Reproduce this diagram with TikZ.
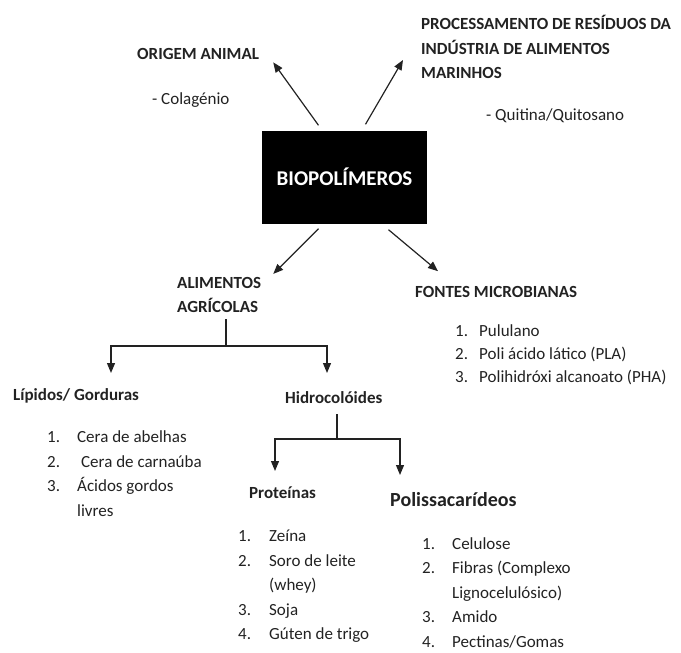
\documentclass[tikz,border=0pt]{standalone}
\usepackage{fontspec}
\setmainfont{Carlito}
\usetikzlibrary{arrows.meta,positioning}
\definecolor{inkgray}{HTML}{222222}
\tikzset{
    head/.style={anchor=west, inner sep=0pt, align=left,
        font=\fontsize{17}{24.5}\selectfont\bfseries, text=inkgray},
    entry/.style={anchor=west, inner sep=0pt,
        font=\fontsize{17}{24.5}\selectfont, text=inkgray},
    rootbox/.style={rectangle, fill=black, minimum width=165pt,
        minimum height=93pt, text=white,
        font=\fontsize{21}{24}\selectfont\bfseries},
    flow/.style={-{Triangle[length=10pt,width=8pt]}, line width=1.2pt, draw=inkgray},
    link/.style={line width=1.2pt, draw=inkgray}
}

\begin{document}
\begin{tikzpicture}[x=1pt,y=-1pt]
        \useasboundingbox (0,0) rectangle (681,653);
        % centre and the four sources
        \node[rootbox] at (344.5,177) (bio) {BIOPOLÍMEROS};
        \node[head] at (137,54) (orig) {ORIGEM ANIMAL};
        \node[entry] at (152,100) (colag) {- Colagénio};
        \node[head] at (421,47) (proc) {PROCESSAMENTO DE RESÍDUOS DA\\INDÚSTRIA DE ALIMENTOS\\MARINHOS};
        \node[entry] at (486,116) (quit) {- Quitina/Quitosano};
        \node[head] at (177,295) (alim) {ALIMENTOS\\AGRÍCOLAS};
        \node[head] at (415,292) (fontes) {FONTES MICROBIANAS};
        \node[entry,font=\fontsize{17}{23}\selectfont] at (455,355) (fontlist) {\begin{tabular}{@{}p{24pt}@{}l@{}}
            1. & Pululano\\
            2. & Poli ácido lático (PLA)\\
            3. & Polihidróxi alcanoato (PHA)
        \end{tabular}};
        % agricultural branch
        \node[head] at (13,396) (lip) {Lípidos/ Gorduras};
        \node[entry] at (47,474.5) (liplist) {\begin{tabular}{@{}p{30pt}@{}l@{}}
            1. & Cera de abelhas\\
            2. & \hspace{4pt}Cera de carnaúba\\
            3. & Ácidos gordos\\
               & livres
        \end{tabular}};
        \node[head] at (285,398) (hidro) {Hidrocolóides};
        \node[head] at (249,493) (prot) {Proteínas};
        \node[entry] at (238,586) (protlist) {\begin{tabular}{@{}p{31pt}@{}l@{}}
            1. & Zeína\\
            2. & Soro de leite\\
               & (whey)\\
            3. & Soja\\
            4. & Gúten de trigo
        \end{tabular}};
        \node[head,font=\fontsize{20}{24}\selectfont\bfseries] at (390,500) (poli) {Polissacarídeos};
        \node[entry] at (422,593.5) (polilist) {\begin{tabular}{@{}p{30pt}@{}l@{}}
            1. & Celulose\\
            2. & Fibras (Complexo\\
               & Lignocelulósico)\\
            3. & Amido\\
            4. & Pectinas/Gomas
        \end{tabular}};
        % forks
        \coordinate (alimfork) at (226,346);
        \coordinate (lipin) at (111,373);
        \coordinate (hidin) at (327,373);
        \coordinate (hidrofork) at (337,439);
        \coordinate (protin) at (275,471);
        \coordinate (poliin) at (400,475);
        \draw[flow] ([xshift=-26pt,yshift=5pt]bio.north) -- ([xshift=14pt,yshift=-2.5pt]orig.south east);
        \draw[flow] ([xshift=21pt,yshift=6pt]bio.north) -- ([xshift=-18pt,yshift=-13pt]proc.west);
        \draw[flow] ([xshift=-26pt,yshift=-5pt]bio.south) -- ([xshift=12pt,yshift=3pt]alim.north east);
        \draw[flow] ([xshift=44pt,yshift=-6pt]bio.south) -- ([xshift=23pt,yshift=15pt]fontes.north west);
        \draw[link,shorten <=6pt] (alim.south -| alimfork) -- (alimfork);
        \draw[flow] (alimfork) -| (lipin);
        \draw[flow] (alimfork) -| (hidin);
        \draw[link,shorten <=10pt] (hidro.south -| hidrofork) -- (hidrofork);
        \draw[flow] (hidrofork) -| (protin);
        \draw[flow] (hidrofork) -| (poliin);
    \end{tikzpicture}
\end{document}
